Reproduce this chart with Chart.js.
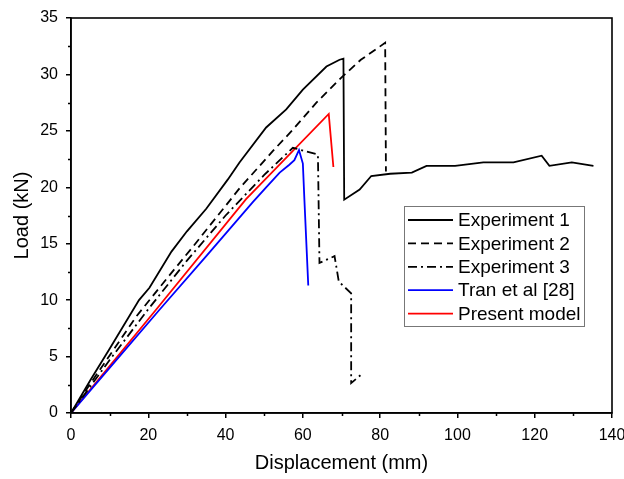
<!DOCTYPE html>
<html>
<head>
<meta charset="utf-8">
<style>
  html, body { margin: 0; padding: 0; background: #fff; }
  canvas { display: block; }
</style>
<script src="https://cdn.jsdelivr.net/npm/chart.js@4/dist/chart.umd.min.js"></script>
</head>
<body>
<canvas id="loadChart" width="624" height="479"></canvas>
<script>
// ---- data (displacement in mm, load in kN) ----
const seriesNames = ['Experiment 1', 'Experiment 2', 'Experiment 3', 'Tran et al [28]', 'Present model'];

const exp1Disp = [0, 5, 10, 17.6, 20.3, 26, 30, 35, 40.6, 43.6, 50.5, 55.7, 60, 66.1, 69.5, 70.5, 70.7, 74.7, 77.7, 82.6, 88.2, 92, 99.4, 106.7, 114.5, 121.8, 123.8, 129.6, 135.2];
const exp1Load = [0, 2.9, 5.7, 10.0, 11.1, 14.3, 16.1, 18.1, 20.7, 22.2, 25.3, 26.9, 28.65, 30.7, 31.3, 31.4, 18.9, 19.8, 21.0, 21.2, 21.3, 21.9, 21.9, 22.2, 22.2, 22.8, 21.9, 22.2, 21.9];

const exp2Disp = [0, 5, 10, 17, 25, 31.7, 38, 43.6, 52.2, 57.4, 63.5, 69.9, 75, 81.3, 81.5];
const exp2Load = [0, 2.6, 5.1, 8.6, 12.0, 14.8, 17.5, 19.9, 23.2, 25.1, 27.5, 29.7, 31.3, 32.8, 21.4];

const exp3Disp = [0, 10, 20, 30, 40, 50, 57.4, 63.9, 64.3, 68.2, 69.3, 72.5, 72.5, 75.1];
const exp3Load = [0, 4.7, 9.2, 13.5, 17.5, 21.1, 23.5, 22.9, 13.3, 13.9, 11.65, 10.6, 2.65, 3.4];

const tranDisp = [0, 10, 22.9, 35, 47.1, 50.5, 54, 56.5, 57.8, 59, 60, 60.4, 61.4];
const tranLoad = [0, 4.0, 9.15, 13.9, 18.7, 20.0, 21.3, 22.0, 22.4, 23.3, 22.1, 18.9, 11.3];

const modelDisp = [0, 22, 45.3, 66.7, 67.9];
const modelLoad = [0, 9.15, 18.95, 26.5, 21.8];

const xTicks = [0, 20, 40, 60, 80, 100, 120, 140];
const yTicks = [0, 5, 10, 15, 20, 25, 30, 35];

function pairs(xs, ys) {
    return xs.map((x, i) => ({ x: x, y: ys[i] }));
}

const FONT = '"Liberation Sans", Arial, sans-serif';

/* ---- frame, minor ticks, axis titles and boxed legend ---- */
const decorPlugin = {
    id: 'decor',
    afterDraw(chart) {
        const { ctx, chartArea: a, scales } = chart;
        const xs = scales.x, ys = scales.y;
        ctx.save();

        // frame round the plot
        ctx.strokeStyle = '#000';
        ctx.lineWidth = 1.6;
        ctx.strokeRect(a.left, a.top, a.right - a.left, a.bottom - a.top);

        // minor ticks
        ctx.lineWidth = 1.5;
        ctx.beginPath();
        for (let v = 10; v < 140; v += 20) {
            const px = Math.round(xs.getPixelForValue(v)) + 0.5;
            ctx.moveTo(px, a.bottom);
            ctx.lineTo(px, a.bottom + 3);
        }
        for (let v = 2.5; v < 35; v += 5) {
            const py = Math.round(ys.getPixelForValue(v)) + 0.5;
            ctx.moveTo(a.left, py);
            ctx.lineTo(a.left - 3, py);
        }
        ctx.stroke();

        // axis titles
        ctx.fillStyle = '#000';
        ctx.font = '20px ' + FONT;
        ctx.textAlign = 'center';
        ctx.textBaseline = 'middle';
        ctx.fillText('Displacement (mm)', (a.left + a.right) / 2, 463);
        ctx.save();
        ctx.translate(22, (a.top + a.bottom) / 2);
        ctx.rotate(-Math.PI / 2);
        ctx.fillText('Load (kN)', 0, 0);
        ctx.restore();

        // legend
        const box = { x: 404.5, y: 206.5, w: 180, h: 120 };
        ctx.fillStyle = '#fff';
        ctx.fillRect(box.x, box.y, box.w, box.h);
        ctx.strokeStyle = '#777';
        ctx.lineWidth = 1;
        ctx.strokeRect(box.x, box.y, box.w, box.h);
        ctx.font = '19px ' + FONT;
        ctx.textAlign = 'left';
        chart.data.datasets.forEach((ds, i) => {
            const cy = 220 + i * 23.4;
            ctx.strokeStyle = ds.borderColor;
            ctx.lineWidth = ds.borderWidth;
            ctx.setLineDash(ds.borderDash || []);
            ctx.beginPath();
            ctx.moveTo(408, cy);
            ctx.lineTo(453, cy);
            ctx.stroke();
            ctx.setLineDash([]);
            ctx.fillStyle = '#000';
            ctx.fillText(ds.label, 458, cy + 1);
        });

        ctx.restore();
    }
};

function line(label, xs, ys, color, dash) {
    return {
        label: label,
        data: pairs(xs, ys),
        showLine: true,
        borderColor: color,
        backgroundColor: color,
        borderWidth: 1.8,
        borderDash: dash,
        pointRadius: 0,
        tension: 0,
        fill: false
    };
}

new Chart(document.getElementById('loadChart'), {
    type: 'scatter',
    data: {
        datasets: [
            line(seriesNames[0], exp1Disp, exp1Load, '#000000', []),
            line(seriesNames[1], exp2Disp, exp2Load, '#000000', [8, 5]),
            line(seriesNames[2], exp3Disp, exp3Load, '#000000', [9, 4, 2, 4]),
            line(seriesNames[3], tranDisp, tranLoad, '#0000ff', []),
            line(seriesNames[4], modelDisp, modelLoad, '#ff0000', [])
        ]
    },
    options: {
        responsive: false,
        animation: false,
        devicePixelRatio: 1,
        layout: { padding: { left: 0, top: 18, right: 12, bottom: 0 } },
        plugins: {
            legend: { display: false },
            tooltip: { enabled: false }
        },
        scales: {
            x: {
                type: 'linear',
                min: 0,
                max: 140,
                afterBuildTicks: s => { s.ticks = xTicks.map(v => ({ value: v })); },
                afterFit: s => { s.height = 66; s.paddingLeft = 0; s.paddingRight = 0; },
                ticks: { color: '#000', font: { family: FONT, size: 16 }, padding: 8, maxRotation: 0 },
                grid: { drawOnChartArea: false, drawTicks: true, tickLength: 5, color: '#000', lineWidth: 1.5 },
                border: { display: true, color: '#000', width: 1.5 }
            },
            y: {
                type: 'linear',
                min: 0,
                max: 35,
                afterBuildTicks: s => { s.ticks = yTicks.map(v => ({ value: v })); },
                afterFit: s => { s.width = 71; s.paddingTop = 0; s.paddingBottom = 0; },
                ticks: { color: '#000', font: { family: FONT, size: 16 }, padding: 8 },
                grid: { drawOnChartArea: false, drawTicks: true, tickLength: 5, color: '#000', lineWidth: 1.5 },
                border: { display: true, color: '#000', width: 1.5 }
            }
        }
    },
    plugins: [decorPlugin]
});
</script>
</body>
</html>
